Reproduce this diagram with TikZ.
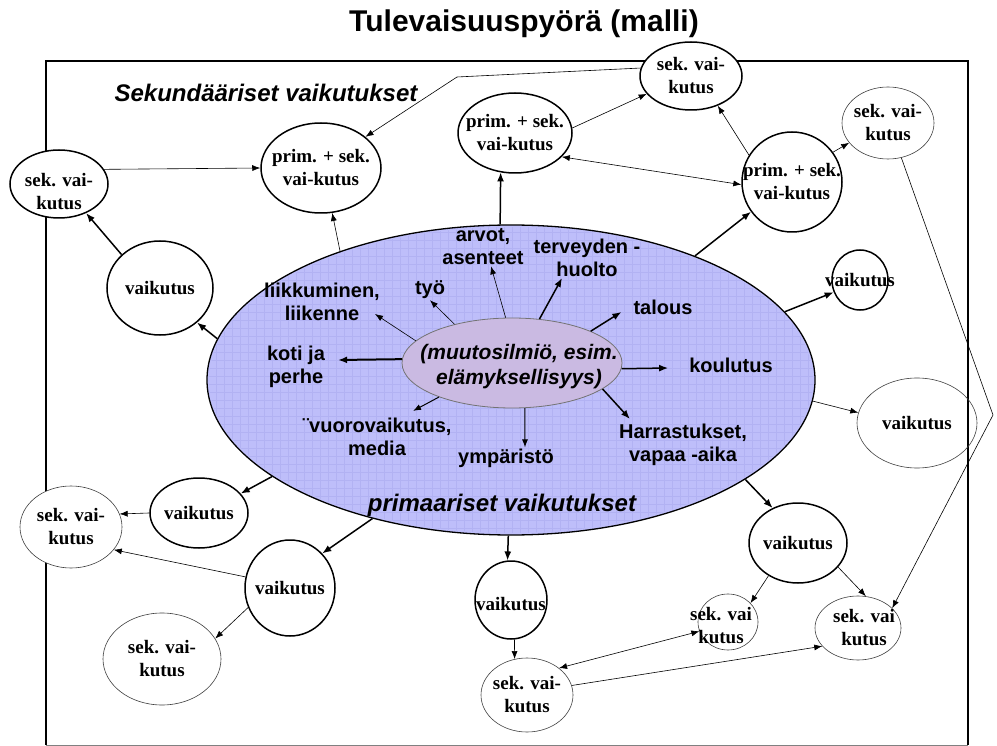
\documentclass[tikz,border=0pt]{standalone}
\usepackage{fontspec}
\setmainfont{Liberation Serif}
\newfontfamily\arialfont{Liberation Sans}
\usetikzlibrary{shapes.geometric,arrows.meta}
\definecolor{wheelblue}{RGB}{190,190,250}
\definecolor{wheelgrid}{RGB}{178,178,243}
\definecolor{coremauve}{RGB}{202,186,226}

\begin{document}
\begin{tikzpicture}[x=1pt,y=-1pt,
    effect/.style={ellipse, draw, line width=1.5pt, fill=white, inner sep=0pt},
    faint/.style={ellipse, draw=black!75, line width=0.6pt, fill=white, inner sep=0pt},
    effecttext/.style={align=center, inner sep=0pt, font=\bfseries\fontsize{19}{23}\selectfont},
    area/.style={align=center, inner sep=1pt, font=\arialfont\bfseries\fontsize{20}{23}\selectfont},
    heading/.style={inner sep=0pt, font=\arialfont\bfseries\itshape\fontsize{24}{28}\selectfont},
    link/.style={-{Latex[length=8pt,width=6pt]}, line width=0.6pt},
    mainlink/.style={-{Latex[length=9pt,width=7pt]}, line width=1.5pt},
    twoway/.style={{Latex[length=8pt,width=6pt]}-{Latex[length=8pt,width=6pt]}, line width=0.6pt}]
    \useasboundingbox (0,0) rectangle (997,746);

    % Frame
    \draw[line width=2.5pt] (46,745) -- (46,61) -- (968,61) -- (968,745);
    \draw[black!50, line width=0.6pt] (46,745) -- (968,745);

    % Headings
    \node[inner sep=0pt, font=\arialfont\bfseries\fontsize{30}{34}\selectfont] (title) at (524,24) {Tulevaisuuspyörä (malli)};
    \node[heading] (sechead) at (266,93) {Sekundääriset vaikutukset};

    % Wheel
    \node[ellipse, draw, line width=1.3pt, fill=wheelblue, minimum width=608, minimum height=310, inner sep=0pt] (wheel) at (511,380) {};
    \begin{scope}
        \clip (511,380) ellipse [x radius=302, y radius=153];
        \draw[wheelgrid, line width=0.4pt, xstep=8pt, ystep=8pt] (207,535) grid (815,225);
    \end{scope}
    \node[ellipse, draw=black!55, line width=0.8pt, fill=coremauve, minimum width=220, minimum height=90, inner sep=0pt] (core) at (512,363) {};
    \node[align=center, inner sep=0pt, font=\arialfont\bfseries\itshape\fontsize{21}{25}\selectfont] (trend) at (519,367) {(muutosilmiö, esim.\\elämyksellisyys)};
    \node[heading] (primhead) at (502,505) {primaariset vaikutukset};

    % Areas
    \node[area] (arvot) at (483,247) {arvot,\\asenteet};
    \node[area] (terv) at (587,258) {terveyden -\\huolto};
    \node[area] (tyo) at (430,290) {työ};
    \node[area] (liik) at (322,302) {liikkuminen,\\liikenne};
    \node[area] (koti) at (296,367) {koti ja\\perhe};
    \node[area] (talous) at (663,307) {talous};
    \node[area] (koul) at (731,365) {koulutus};
    \node[area] (vuoro) at (377,437) {¨vuorovaikutus,\\media};
    \node[area] (ymp) at (506,458) {ympäristö};
    \node[area] (harr) at (683,445) {Harrastukset,\\vapaa -aika};

    \draw[link] (core.146) -- (tyo.south);
    \draw[link] (core.167) -- ([xshift=-6pt,yshift=-12pt]liik.east);
    \draw[link] (core.98) -- ([xshift=8pt]arvot.south);
    \draw[mainlink] (core.58) -- ([xshift=-25pt]terv.south);
    \draw[mainlink] (core.22) -- ([xshift=-11pt,yshift=-5pt]talous.west);
    \draw[mainlink] (core.357) -- ([xshift=-20pt,yshift=-3pt]koul.west);
    \draw[mainlink, line width=2pt] (core.178) -- ([xshift=12pt,yshift=7pt]koti.east);
    \draw[link, line width=1pt] (core.205) -- ([xshift=36pt,yshift=6pt]vuoro.north);
    \draw[link, line width=1pt] (core.286) -- ([xshift=19pt]ymp.north);
    \draw[mainlink] (core.344) -- ([xshift=12pt,yshift=4pt]harr.north west);

    % Effects
    \node[effect, minimum width=102, minimum height=68, label={[effecttext]center:sek. vai-\\kutus}] (sektop) at (691,76) {};
    \node[effect, minimum width=114, minimum height=80, label={[effecttext]center:prim. + sek.\\vai-kutus}] (primmid) at (515,133) {};
    \node[effect, minimum width=120, minimum height=90, label={[effecttext]center:prim. + sek.\\vai-kutus}] (primleft) at (321,168) {};
    \node[effect, minimum width=98, minimum height=68, label={[effecttext, yshift=-8pt]center:sek. vai-\\kutus}] (sekleft) at (59,184) {};
    \node[effect, minimum width=106, minimum height=94, label={[effecttext]center:vaikutus}] (vaikleft) at (160,288) {};
    \node[effect, minimum width=100, minimum height=100, label={[effecttext]center:prim. + sek.\\vai-kutus}] (primright) at (792,182) {};
    \node[faint, minimum width=92, minimum height=72, label={[effecttext]center:sek. vai-\\kutus}] (sekright) at (888,123) {};
    \node[effect, minimum width=56, minimum height=60, label={[effecttext]center:vaikutus}] (vaiksmall) at (860,280) {};
    \node[faint, fill=none, minimum width=120, minimum height=90, label={[effecttext]center:vaikutus}] (vaikright) at (917,423) {};
    \node[effect, minimum width=98, minimum height=80, label={[effecttext]center:vaikutus}] (vaiklowr) at (798,543) {};
    \node[faint, minimum width=60, minimum height=56, label={[effecttext, xshift=-7pt, yshift=-4pt]center:sek. vai\\kutus}] (seklowa) at (728,622) {};
    \node[faint, minimum width=86, minimum height=64, label={[effecttext, xshift=6pt]center:sek. vai\\kutus}] (seklowb) at (858,628) {};
    \node[effect, minimum width=72, minimum height=78, label={[effecttext, yshift=-4pt]center:vaikutus}] (vaikbottom) at (511,600) {};
    \node[faint, minimum width=92, minimum height=74, label={[effecttext]center:sek. vai-\\kutus}] (sekbottom) at (527,695) {};
    \node[effect, minimum width=90, minimum height=96, label={[effecttext]center:vaikutus}] (vaiklowl) at (290,588) {};
    \node[faint, minimum width=118, minimum height=92, label={[effecttext]center:sek. vai-\\kutus}] (seklowl) at (162,659) {};
    \node[faint, minimum width=102, minimum height=82, label={[effecttext]center:sek. vai-\\kutus}] (sekfarl) at (71,527) {};
    \node[effect, minimum width=98, minimum height=70, label={[effecttext]center:vaikutus}] (vaikmidl) at (199,513) {};

    \coordinate (kinktop) at (457,77);
    \coordinate (kinkright) at (993,415);

    % Primary links
    \draw[mainlink] (wheel.94) -- (primmid.250);
    \draw[link] (wheel.143) -- (primleft.284);
    \draw[mainlink] (wheel.172) -- (vaikleft.317);
    \draw[mainlink] (wheel.34) -- (primright.216);
    \draw[mainlink] (wheel.14) -- (vaiksmall.205);
    \draw[link] (wheel.356) -- (vaikright.170);
    \draw[mainlink] (wheel.337) -- (vaiklowr.126);
    \draw[mainlink] (wheel.269) -- (vaikbottom.95);
    \draw[mainlink] (wheel.225) -- (vaiklowl.47);
    \draw[mainlink] (wheel.202) -- (vaikmidl.25);

    % Secondary links
    \draw[mainlink] (vaikleft.139) -- (sekleft.313);
    \draw[link] (sekleft.18) -- (primleft.180);
    \draw[link] (sektop.171) -- (kinktop) -- (primleft.35);
    \draw[link] (primmid.5) -- (sektop.202);
    \draw[twoway] (primmid.333) -- (primright.183);
    \draw[link] (primright.148) -- (sektop.312);
    \draw[link] (primright.36) -- (sekright.207);
    \draw[link] (sekright.291) -- (kinkright) -- (seklowb.30);
    \draw[link] (vaiklowr.228) -- (seklowa.40);
    \draw[link] (vaiklowr.329) -- (seklowb.76);
    \draw[link] (vaikbottom.275) -- (sekbottom.109);
    \draw[twoway] (sekbottom.40) -- (seklowa.198);
    \draw[link] (sekbottom.12) -- (seklowb.207);
    \draw[link] (vaiklowl.166) -- (sekfarl.332);
    \draw[link] (vaiklowl.205) -- (seklowl.21);
    \draw[link] (vaikmidl.180) -- (sekfarl.15);
\end{tikzpicture}
\end{document}
